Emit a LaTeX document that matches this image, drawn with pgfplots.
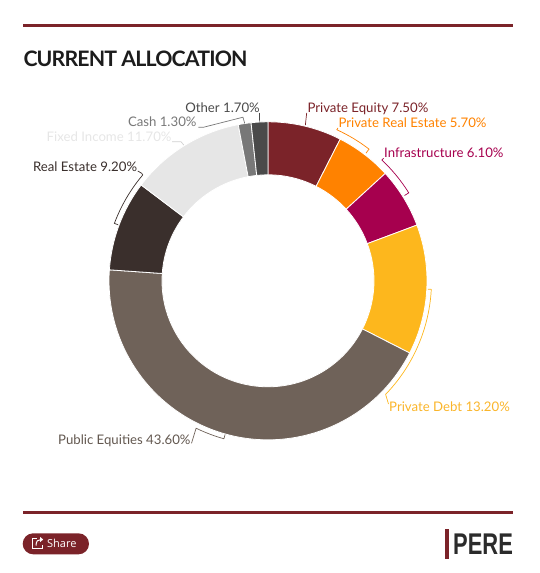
\documentclass[border=0pt]{standalone}
\usepackage{pgfplots}
\pgfplotsset{compat=1.18}
\usepackage{pgfplotstable}
\usetikzlibrary{calc}
\usepackage{fontspec}
\setmainfont{Lato}
\newfontfamily\logofont{Liberation Sans}
\newfontfamily\sharefont{Open Sans}

\definecolor{c0}{HTML}{7B2329}
\definecolor{c1}{HTML}{FF8200}
\definecolor{c2}{HTML}{A6004E}
\definecolor{c3}{HTML}{FDB71D}
\definecolor{c4}{HTML}{6F6259}
\definecolor{c5}{HTML}{3A2F2C}
\definecolor{c6}{HTML}{E6E6E6}
\definecolor{c7}{HTML}{787878}
\definecolor{c8}{HTML}{4A4A4A}
\definecolor{pered}{HTML}{7B2329}
\definecolor{titlecol}{HTML}{1C1C1C}
\definecolor{logocol}{HTML}{2B2B2B}
\definecolor{pubeqtxt}{HTML}{62574F}
\definecolor{pdtxt}{HTML}{FAB52A}

% Current allocation (%), clockwise from 12 o'clock
\pgfplotstableread{
idx share
0 7.5
1 5.7
2 6.1
3 13.2
4 43.6
5 9.2
6 11.7
7 1.3
8 1.7
}\alloc

\newcommand\lab{\fontsize{13.2}{15}\selectfont}
\def\C{axis cs:268,280.8}

\begin{document}
\begin{tikzpicture}
\begin{axis}[
  width=539pt, height=573pt, scale only axis,
  xmin=0, xmax=539, ymin=0, ymax=573, y dir=reverse,
  hide axis, clip=false,
]
% donut slices from the table (angles negated: the y axis is reversed)
\def\cum{0}
\pgfplotsforeachungrouped \i in {0,...,8}{%
  \pgfplotstablegetelem{\i}{share}\of\alloc
  \let\v\pgfplotsretval
  \pgfmathsetmacro\aS{3.6*\cum-90}%
  \pgfmathsetmacro\aE{3.6*(\cum+\v)-90}%
  \pgfmathsetmacro\cum{\cum+\v}%
  \edef\tmp{\noexpand\fill[c\i, draw=white, line width=0.8pt] (\C) ++(\aS:159) arc[start angle=\aS, end angle=\aE, radius=159] -- ++(\aE+180:53) arc[start angle=\aE, end angle=\aS, radius=106] -- cycle;}%
  \tmp
}

% connectors (angles negated)
\draw[c0, line width=0.7pt] (axis cs:306.7,112.8) -- ($(\C)+(-76.5:160)$);
\draw[c1, line width=0.7pt] (axis cs:337.9,128) -- ($(\C)+(-65.5:166)$) arc[start angle=-65.5, end angle=-52.5, radius=166] -- ($(\C)+(-52.5:161)$);
\draw[c2, line width=0.7pt] (axis cs:383.6,158.3) -- ($(\C)+(-46.7:166)$) arc[start angle=-46.7, end angle=-32, radius=166] -- ($(\C)+(-32:161)$);
\draw[c3, line width=0.7pt] ($(\C)+(3:160)$) -- ($(\C)+(3:163.5)$) arc[start angle=3, end angle=44, radius=163.5] -- (axis cs:388.5,404);
\draw[c4, line width=0.7pt] (axis cs:191.5,443.3) -- ($(\C)+(116:164)$) arc[start angle=116, end angle=105.6, radius=164] -- ($(\C)+(105.6:159.5)$);
\draw[c5, line width=0.7pt] (axis cs:137.8,171) -- (axis cs:141.7,173.3) -- ($(\C)+(-139.8:164)$) arc[start angle=-139.8, end angle=-159.5, radius=164] -- ($(\C)+(-159.5:160)$);
\draw[c6!90!black, line width=0.7pt] (axis cs:172,141.7) -- (axis cs:181,141.7) -- ($(\C)+(-121.8:159.5)$);
\draw[c7, line width=0.7pt] (axis cs:198.3,127.3) -- (axis cs:203.3,127.3) -- ($(\C)+(-98.7:165.5)$) -- ($(\C)+(-98.4:159)$);
\draw[c8, line width=0.7pt] (axis cs:259.5,113) -- ($(\C)+(-93.1:159.5)$);

% labels
\node[anchor=base west, inner sep=0, text=c0, font=\lab] at (axis cs:307.3,112.3) {Private Equity 7.50\%};
\node[anchor=base west, inner sep=0, text=c1, font=\lab] at (axis cs:338.3,127.3) {Private Real Estate 5.70\%};
\node[anchor=base west, inner sep=0, text=c2, font=\lab] at (axis cs:384,157.3) {Infrastructure 6.10\%};
\node[anchor=base west, inner sep=0, text=pdtxt, font=\lab] at (axis cs:389,411.7) {Private Debt 13.20\%};
\node[anchor=base east, inner sep=0, text=pubeqtxt, font=\lab] at (axis cs:190.7,444) {Public Equities 43.60\%};
\node[anchor=base east, inner sep=0, text=c5, font=\lab] at (axis cs:137.3,171) {Real Estate 9.20\%};
\node[anchor=base east, inner sep=0, text=c6, font=\lab] at (axis cs:171.7,141.7) {Fixed Income 11.70\%};
\node[anchor=base east, inner sep=0, text=c7, font=\lab] at (axis cs:196.7,126.7) {Cash 1.30\%};
\node[anchor=base east, inner sep=0, text=c8, font=\lab] at (axis cs:260,112) {Other 1.70\%};

% header
\fill[pered] (axis cs:22.7,24) rectangle (axis cs:513,26.8);
\node[anchor=base west, inner sep=0, text=titlecol, font=\fontsize{21.3}{24}\selectfont\bfseries\addfontfeatures{LetterSpace=-4}] at (axis cs:23.3,66) {CURRENT ALLOCATION};

% footer
\fill[pered] (axis cs:22.7,511) rectangle (axis cs:513,513.7);
\fill[pered, rounded corners=10.5pt] (axis cs:22.7,533.3) rectangle (axis cs:89,554.3);
\node[anchor=west, inner sep=0, text=white, font=\sharefont\fontsize{11}{12}\selectfont] at (axis cs:47,543.6) {Share};
\draw[white, line width=1pt] (axis cs:36.5,538.8) -- (axis cs:32.8,538.8) -- (axis cs:32.8,548.6) -- (axis cs:42,548.6) -- (axis cs:42,544.5);
\draw[white, line width=1pt] (axis cs:36,545.5) .. controls (axis cs:36,541) and (axis cs:38,539.5) .. (axis cs:41,539.5);
\fill[white] (axis cs:43.2,539.5) -- (axis cs:40.2,537) -- (axis cs:40.2,542) -- cycle;
\fill[pered] (axis cs:445,529) rectangle (axis cs:448.7,559);
\node[anchor=south west, inner sep=0, text=logocol] at (axis cs:453,554.3) {\resizebox{59.7pt}{20.6pt}{\logofont\bfseries PERE}};
\end{axis}
\pgfresetboundingbox
\path (0,0) rectangle (539pt,573pt);
\end{tikzpicture}
\end{document}
